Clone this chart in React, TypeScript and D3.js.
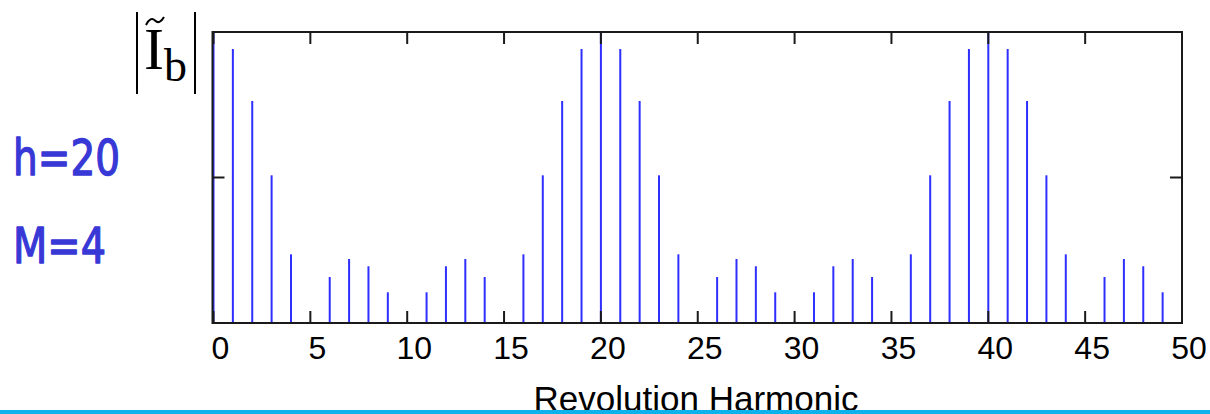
import React, { useEffect, useRef } from "react";
import * as d3 from "d3";

// harmonic magnitudes (top of box = 2)
const harmonics = d3.range(0, 50);
const magnitudes = [
  2.0, 1.883, 1.526, 1.015, 0.472, 0.0, 0.316, 0.44, 0.39, 0.211,
  0.01, 0.211, 0.39, 0.44, 0.316, 0.0, 0.472, 1.015, 1.526, 1.883,
  2.0, 1.883, 1.526, 1.015, 0.472, 0.0, 0.316, 0.44, 0.39, 0.211,
  0.01, 0.211, 0.39, 0.44, 0.316, 0.0, 0.472, 1.015, 1.526, 1.883,
  2.0, 1.883, 1.526, 1.015, 0.472, 0.0, 0.316, 0.44, 0.39, 0.211,
];
const xTicks = [0, 5, 10, 15, 20, 25, 30, 35, 40, 45, 50];
const yTicks = [0, 1, 2];
const notes = ["h=20", "M=4"];

const App = () => {
  const ref = useRef<SVGSVGElement>(null);

  useEffect(() => {
    document.body.style.margin = "0";
    const svg = d3.select(ref.current);
    svg.selectAll("*").remove();

    const left = 212.5, right = 1182, top = 32, bottom = 323;
    const x = d3.scaleLinear().domain([0, 50]).range([213.5, right]);
    const y = d3.scaleLinear().domain([0, 2]).range([bottom, top]);
    const tickLen = 12;

    // stems
    svg.append("g")
      .selectAll("line")
      .data(harmonics)
      .enter()
      .append("line")
      .attr("x1", (d) => x(d))
      .attr("x2", (d) => x(d))
      .attr("y1", y(0))
      .attr("y2", (d) => y(magnitudes[d]))
      .attr("stroke", "#2e2eff")
      .attr("stroke-width", 2);

    // box
    svg.append("rect")
      .attr("x", left)
      .attr("y", top)
      .attr("width", right - left)
      .attr("height", bottom - top)
      .attr("fill", "none")
      .attr("stroke", "#1a1a1a")
      .attr("stroke-width", 2);

    // inward ticks, top and bottom
    const tx = svg.append("g").attr("stroke", "#1a1a1a").attr("stroke-width", 2);
    xTicks.forEach((t) => {
      tx.append("line").attr("x1", x(t)).attr("x2", x(t)).attr("y1", bottom).attr("y2", bottom - tickLen);
      tx.append("line").attr("x1", x(t)).attr("x2", x(t)).attr("y1", top).attr("y2", top + tickLen);
    });
    yTicks.forEach((t) => {
      tx.append("line").attr("x1", left).attr("x2", left + tickLen).attr("y1", y(t)).attr("y2", y(t));
      tx.append("line").attr("x1", right).attr("x2", right - tickLen).attr("y1", y(t)).attr("y2", y(t));
    });

    // tick labels
    svg.append("g")
      .selectAll("text")
      .data(xTicks)
      .enter()
      .append("text")
      .attr("x", (d) => x(d) + 7)
      .attr("y", 359)
      .attr("text-anchor", "middle")
      .style("font-family", "Liberation Sans, Arial, sans-serif")
      .style("font-size", "32px")
      .attr("fill", "#000")
      .text((d) => d);

    // x label
    svg.append("text")
      .attr("x", 696)
      .attr("y", 411)
      .attr("text-anchor", "middle")
      .style("font-family", "Liberation Sans, Arial, sans-serif")
      .style("font-size", "35px")
      .attr("fill", "#000")
      .text("Revolution Harmonic");

    // bottom cyan rule
    svg.append("rect")
      .attr("x", 0)
      .attr("y", 410)
      .attr("width", 1210)
      .attr("height", 4)
      .attr("fill", "#0db2ec");

    // y label |I~_b|
    const yl = svg.append("g");
    yl.append("line").attr("x1", 137).attr("x2", 137).attr("y1", 12).attr("y2", 94)
      .attr("stroke", "#000").attr("stroke-width", 2);
    yl.append("line").attr("x1", 195).attr("x2", 195).attr("y1", 12).attr("y2", 94)
      .attr("stroke", "#000").attr("stroke-width", 2);
    yl.append("text")
      .attr("x", 144)
      .attr("y", 69)
      .style("font-family", "Liberation Serif, Times New Roman, serif")
      .style("font-size", "60px")
      .text("I");
    yl.append("path")
      .attr("d", "M146,25 Q150.5,16 155,20.5 T164,17")
      .attr("fill", "none")
      .attr("stroke", "#000")
      .attr("stroke-width", 2);
    yl.append("text")
      .attr("x", 164)
      .attr("y", 81)
      .style("font-family", "Liberation Serif, Times New Roman, serif")
      .style("font-size", "46px")
      .text("b");

    // parameter notes
    const noteY = [175, 263];
    const noteW = [107, 93];
    svg.append("g")
      .selectAll("text")
      .data(notes)
      .enter()
      .append("text")
      .attr("x", 13)
      .attr("y", (d, i) => noteY[i])
      .attr("textLength", (d, i) => noteW[i])
      .attr("lengthAdjust", "spacingAndGlyphs")
      .style("font-family", "DejaVu Sans, sans-serif")
      .style("font-size", "50px")
      .attr("fill", "#3838d6")
      .attr("stroke", "#3838d6")
      .attr("stroke-width", 1.4)
      .attr("stroke-linejoin", "round")
      .text((d) => d);
  }, []);

  return <svg ref={ref} width={1210} height={414} style={{ display: "block" }}></svg>;
};

export default App;
